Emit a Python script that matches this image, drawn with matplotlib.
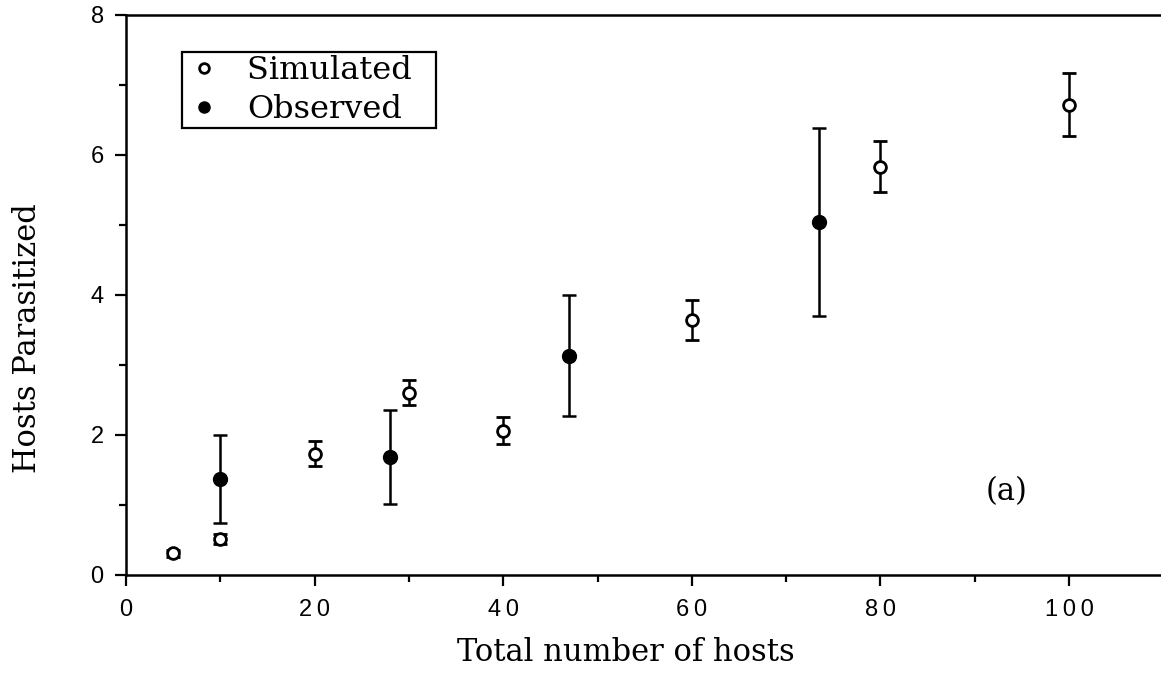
import matplotlib
matplotlib.use("Agg")
import matplotlib.pyplot as plt
from matplotlib.lines import Line2D
from matplotlib.ticker import MultipleLocator

# Simulated runs: mean hosts parasitized and error half-widths
sim_x = [5, 10, 20, 30, 40, 60, 80, 100]
sim_y = [0.31, 0.51, 1.73, 2.60, 2.06, 3.64, 5.83, 6.71]
sim_err = [0.05, 0.07, 0.18, 0.18, 0.19, 0.28, 0.37, 0.45]

# Field observations
obs_x = [10, 28, 47, 73.5]
obs_y = [1.37, 1.68, 3.13, 5.04]
obs_err = [0.63, 0.67, 0.86, 1.34]

xticks = [0, 20, 40, 60, 80, 100]
yticks = [0, 2, 4, 6, 8]

serif = ["DejaVu Serif"]
sans = ["Liberation Sans", "DejaVu Sans"]
THIN = "\u2009"

fig = plt.figure(figsize=(11.61, 6.79), dpi=100)
ax = fig.add_axes([0.1085, 0.1532, 0.8915, 0.8254])

lw = 1.8
ax.errorbar(sim_x, sim_y, yerr=sim_err, fmt="o", color="black",
            markerfacecolor="white", markeredgecolor="black",
            markeredgewidth=2.0, markersize=8.5, elinewidth=lw,
            capsize=5, capthick=lw, zorder=3)
ax.errorbar(obs_x, obs_y, yerr=obs_err, fmt="o", color="black",
            markerfacecolor="black", markersize=10, elinewidth=lw,
            capsize=5, capthick=lw, zorder=3)

ax.set_xlim(0, 109.75)
ax.set_ylim(0, 8)
ax.set_xticks(xticks)
ax.set_yticks(yticks)
ax.xaxis.set_minor_locator(MultipleLocator(10))
ax.yaxis.set_minor_locator(MultipleLocator(1))

ax.spines["right"].set_visible(False)
for s in ("left", "bottom", "top"):
    ax.spines[s].set_linewidth(1.8)

ax.tick_params(which="major", direction="out", length=8, width=1.6,
               top=False, right=False)
ax.tick_params(which="minor", direction="out", length=5, width=1.6,
               top=False, right=False)
ax.tick_params(axis="x", which="major", pad=9)
ax.tick_params(axis="y", which="major", pad=8)
ax.set_xticklabels([THIN.join(str(t)) for t in xticks], family=sans, fontsize=17)
ax.set_yticklabels([str(t) for t in yticks], family=sans, fontsize=17)

ax.set_xlabel("Total number of hosts", family=serif, fontsize=22)
ax.xaxis.set_label_coords(0.483, -0.110)
ax.set_ylabel("Hosts Parasitized", family=serif, fontsize=22)
ax.yaxis.set_label_coords(-0.080, 0.423)

handles = [
    Line2D([], [], linestyle="none", marker="o", markersize=7,
           markerfacecolor="white", markeredgecolor="black",
           markeredgewidth=2.0, label="Simulated  "),
    Line2D([], [], linestyle="none", marker="o", markersize=8,
           markerfacecolor="black", markeredgecolor="black",
           label="Observed"),
]
leg = ax.legend(handles=handles, loc="upper left",
                bbox_to_anchor=(0.054, 0.933),
                prop={"family": serif, "size": 23}, frameon=True,
                fancybox=False, edgecolor="black", handletextpad=0.75,
                borderpad=0.1, labelspacing=0.25, handlelength=1.2,
                borderaxespad=0, framealpha=1)
leg.get_frame().set_linewidth(1.6)

ax.text(93.4, 1.19, "(a)", family=serif, fontsize=22, ha="center", va="center")

fig.savefig("out.png", dpi=100)
